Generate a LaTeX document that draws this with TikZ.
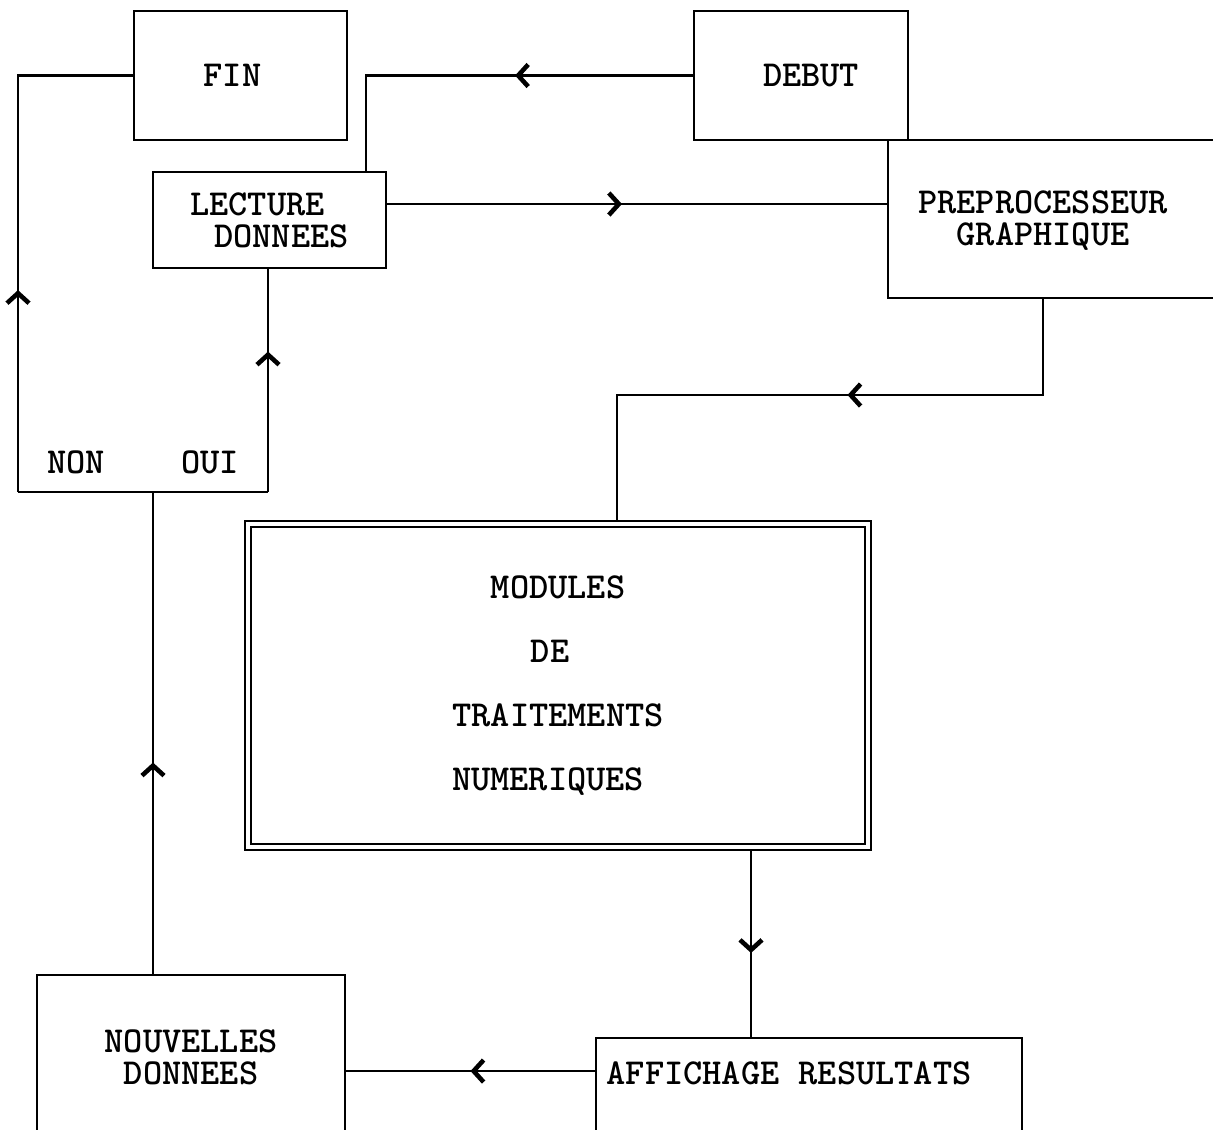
\documentclass[tikz,border=0pt]{standalone}
\usetikzlibrary{positioning,arrows.meta,decorations.markings}

\begin{document}
\begin{tikzpicture}[x=0.01cm, y=-0.01cm,
  box/.style={draw, line width=0.6pt, inner sep=0pt, align=center,
              font=\ttfamily\bfseries\fontsize{10.4}{9.1}\selectfont},
  lbl/.style={inner sep=0pt, align=center,
              font=\ttfamily\bfseries\fontsize{10.4}{9.1}\selectfont},
  flow/.style={line width=0.6pt},
  midarrow/.style={flow, postaction={decorate},
    decoration={markings, mark=at position #1 with
      {\arrow{Straight Barb[length=1mm,width=2.2mm,line width=1.3pt]}}}},
]
\useasboundingbox (0,0) rectangle (1213,1129);
\clip (0,0) rectangle (1213,1129);

% boxes
\node[box, minimum width=21.3mm, minimum height=12.9mm] (fin) at (240.5,75.5) {FIN\rule{1.6mm}{0pt}};
\node[box, minimum width=21.4mm, minimum height=12.9mm] (debut) at (801,75.5) {\rule{2mm}{0pt}DEBUT};
\node[box, minimum width=23.3mm, minimum height=9.6mm] (lecture) at (269.5,220)
  {LECTURE\rule{2.4mm}{0pt}\\\rule{2.4mm}{0pt}DONNEES};
\node[box, minimum width=34.2mm, minimum height=15.8mm] (preproc) at (1059,219) {};
\node[lbl] (preproctxt) at (1043,221) {PREPROCESSEUR\\GRAPHIQUE};
\node[box, double, double distance=0.35mm, minimum width=61.95mm, minimum height=32.3mm,
      font=\ttfamily\bfseries\fontsize{10.4}{18.2}\selectfont] (modules) at (558,685.5)
  {MODULES\\DE\rule{1.6mm}{0pt}\\TRAITEMENTS\\NUMERIQUES\rule{2mm}{0pt}};
\node[box, minimum width=30.8mm, minimum height=16.4mm] (nouvelles) at (191,1057) {NOUVELLES\\DONNEES};
\node[box, minimum width=42.6mm, minimum height=10.4mm] (affichage) at (809,1090) {};
\node[lbl] (affichagetxt) at (789,1073) {AFFICHAGE RESULTATS};

% test labels
\node[lbl] (non) at (76,462) {NON};
\node[lbl] (oui) at (210,462) {OUI};

% connection points
\coordinate (lecin) at (366,172);
\coordinate (lecout) at (386,204);
\coordinate (prein) at (888,204);
\coordinate (preout) at (1043,298);
\coordinate (modin) at (617,522);
\coordinate (modout) at (751,849);
\coordinate (affin) at (751,1038);
\coordinate (affout) at (596,1071);
\coordinate (nouvin) at (345,1071);
\coordinate (nouvout) at (153,975);
\coordinate (choix) at (153,492);
\coordinate (choixnon) at (18,492);
\coordinate (choixoui) at (268,492);

% flow
\draw[midarrow=0.42] (debut.west) -| (lecin);
\draw[midarrow=0.47] (lecout) -- (prein);
\draw[midarrow=0.45] (preout) -- ++(0,97) -| (modin);
\draw[midarrow=0.55] (modout) -- (affin);
\draw[midarrow=0.5] (affout) -- (nouvin);
\draw[midarrow=0.44] (nouvout) -- (choix);
\draw[flow] (choixnon) -- (choixoui);
\draw[midarrow=0.38] (choixnon) |- (fin.west);
\draw[midarrow=0.63] (choixoui) -- (choixoui |- lecture.south);

\end{tikzpicture}
\end{document}
